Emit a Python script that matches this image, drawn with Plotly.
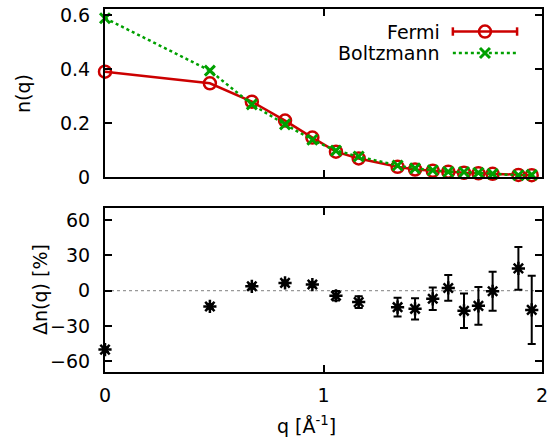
import plotly.graph_objects as go

# ---- data ----
q = [0.0, 0.48, 0.672, 0.824, 0.949, 1.057, 1.161, 1.339, 1.419, 1.50,
     1.571, 1.643, 1.709, 1.774, 1.892, 1.953]
n_fermi = [0.390, 0.347, 0.279, 0.209, 0.146, 0.094, 0.069, 0.038, 0.028, 0.023,
           0.020, 0.016, 0.014, 0.012, 0.008, 0.007]
n_boltz = [0.588, 0.394, 0.269, 0.195, 0.138, 0.098, 0.076, 0.043, 0.032, 0.025,
           0.0195, 0.019, 0.016, 0.012, 0.0065, 0.008]
delta = [-50.0, -13.4, 3.7, 6.6, 5.2, -4.3, -9.7, -14.0, -15.4, -6.9,
         2.3, -17.1, -12.9, -0.5, 18.9, -16.3]
delta_err = [2.0, 2.0, 2.0, 2.0, 2.0, 4.0, 5.0, 8.0, 9.0, 9.6,
             10.9, 14.6, 16.1, 16.6, 18.1, 29.0]
x_ticks = [0, 1, 2]
top_y_ticks = [0, 0.2, 0.4, 0.6]
bot_y_ticks = [-60, -30, 0, 30, 60]

RED = "#cc0000"
GREEN = "#00a000"
FONT = "DejaVu Sans"
FS = 19

fig = go.Figure()

# top panel
fig.add_trace(go.Scatter(x=q, y=n_fermi, mode="lines+markers", name="Fermi",
                         line=dict(color=RED, width=2.5),
                         marker=dict(symbol="circle-open", size=12, color=RED,
                                     line=dict(width=2.5, color=RED)),
                         cliponaxis=False, xaxis="x", yaxis="y", showlegend=False))
fig.add_trace(go.Scatter(x=q, y=n_boltz, mode="lines+markers", name="Boltzmann",
                         line=dict(color=GREEN, width=2.5, dash="dot"),
                         marker=dict(symbol="x-thin", size=10, color=GREEN,
                                     line=dict(width=3, color=GREEN)),
                         cliponaxis=False, xaxis="x", yaxis="y", showlegend=False))

# bottom panel
fig.add_trace(go.Scatter(x=q, y=delta, mode="markers",
                         marker=dict(symbol="asterisk", size=11, color="black",
                                     line=dict(width=2.5, color="black")),
                         error_y=dict(type="data", array=delta_err, color="black",
                                      thickness=2, width=4),
                         cliponaxis=False, xaxis="x2", yaxis="y2", showlegend=False))

# legend (gnuplot style: text left, sample right) drawn on a hidden overlay axis
leg_x = [0.796, 0.943]
leg_y = [0.866, 0.738]
fig.add_trace(go.Scatter(x=leg_x, y=[leg_y[0]] * 2, mode="lines",
                         line=dict(color=RED, width=2.5),
                         error_y=dict(type="constant", value=0.025, color=RED,
                                      thickness=2.5, width=0),
                         xaxis="x3", yaxis="y3", showlegend=False, hoverinfo="skip"))
fig.add_trace(go.Scatter(x=[sum(leg_x) / 2], y=[leg_y[0]], mode="markers",
                         marker=dict(symbol="circle-open", size=12, color=RED,
                                     line=dict(width=2.5, color=RED)),
                         xaxis="x3", yaxis="y3", showlegend=False, hoverinfo="skip"))
fig.add_trace(go.Scatter(x=leg_x, y=[leg_y[1]] * 2, mode="lines",
                         line=dict(color=GREEN, width=2.5, dash="dot"),
                         xaxis="x3", yaxis="y3", showlegend=False, hoverinfo="skip"))
fig.add_trace(go.Scatter(x=[sum(leg_x) / 2], y=[leg_y[1]], mode="markers",
                         marker=dict(symbol="x-thin", size=10, color=GREEN,
                                     line=dict(width=3, color=GREEN)),
                         xaxis="x3", yaxis="y3", showlegend=False, hoverinfo="skip"))
for txt, yy in zip(["Fermi", "Boltzmann"], leg_y):
    fig.add_annotation(x=0.771, y=yy, xref="x3", yref="y3", text=txt,
                       showarrow=False, xanchor="right", yanchor="middle",
                       font=dict(family=FONT, size=FS, color="black"))

# axis titles (gnuplot-like placement)
fig.add_annotation(x=-0.1876, y=0.766, xref="paper", yref="paper", text="n(q)",
                   textangle=-90, showarrow=False, xanchor="center", yanchor="middle",
                   font=dict(family=FONT, size=FS, color="black"))
fig.add_annotation(x=-0.1487, y=0.226, xref="paper", yref="paper", text="Δn(q) [%]",
                   textangle=-90, showarrow=False, xanchor="center", yanchor="middle",
                   font=dict(family=FONT, size=FS, color="black"))
fig.add_annotation(x=0.4622, y=-0.145, xref="paper", yref="paper",
                   text="q [Å<sup>-1</sup>]",
                   showarrow=False, xanchor="center", yanchor="middle",
                   font=dict(family=FONT, size=FS, color="black"))

# zero line in bottom panel
fig.add_shape(type="line", xref="x2 domain", yref="y2", x0=0, x1=1, y0=0, y1=0,
              line=dict(color="#999999", width=1.2, dash="dot"), layer="below")

axis_common = dict(showline=True, linewidth=2, linecolor="black", mirror="ticks",
                   ticks="inside", ticklen=7, tickwidth=1.5, tickcolor="black",
                   showgrid=False, zeroline=False, automargin=False,
                   tickfont=dict(family=FONT, size=FS, color="black"))

TOP_DOM = [0.537, 1.0]
BOT_DOM = [0.0, 0.452]

fig.update_layout(
    width=551, height=441,
    margin=dict(l=105, r=9, t=9, b=69),
    plot_bgcolor="white", paper_bgcolor="white",
    font=dict(family=FONT, size=FS, color="black"),
    xaxis=dict(axis_common, domain=[0, 1], range=[0, 2], tickvals=x_ticks,
               showticklabels=False, anchor="y"),
    yaxis=dict(axis_common, domain=TOP_DOM, range=[0, 0.622], tickvals=top_y_ticks,
               ticktext=["0", "0.2", "0.4", "0.6"], anchor="x", ticklabelstandoff=9),
    xaxis2=dict(axis_common, domain=[0, 1], range=[0, 2], tickvals=x_ticks,
                anchor="y2", ticklabelstandoff=5),
    yaxis2=dict(axis_common, domain=BOT_DOM, range=[-69, 70.2], tickvals=bot_y_ticks,
                anchor="x2", ticklabelstandoff=9),
    xaxis3=dict(range=[0, 1], visible=False, overlaying="x", anchor="y3",
                fixedrange=True),
    yaxis3=dict(range=[0, 1], visible=False, overlaying="y", anchor="x3",
                fixedrange=True),
)

fig.write_html("out.html")
